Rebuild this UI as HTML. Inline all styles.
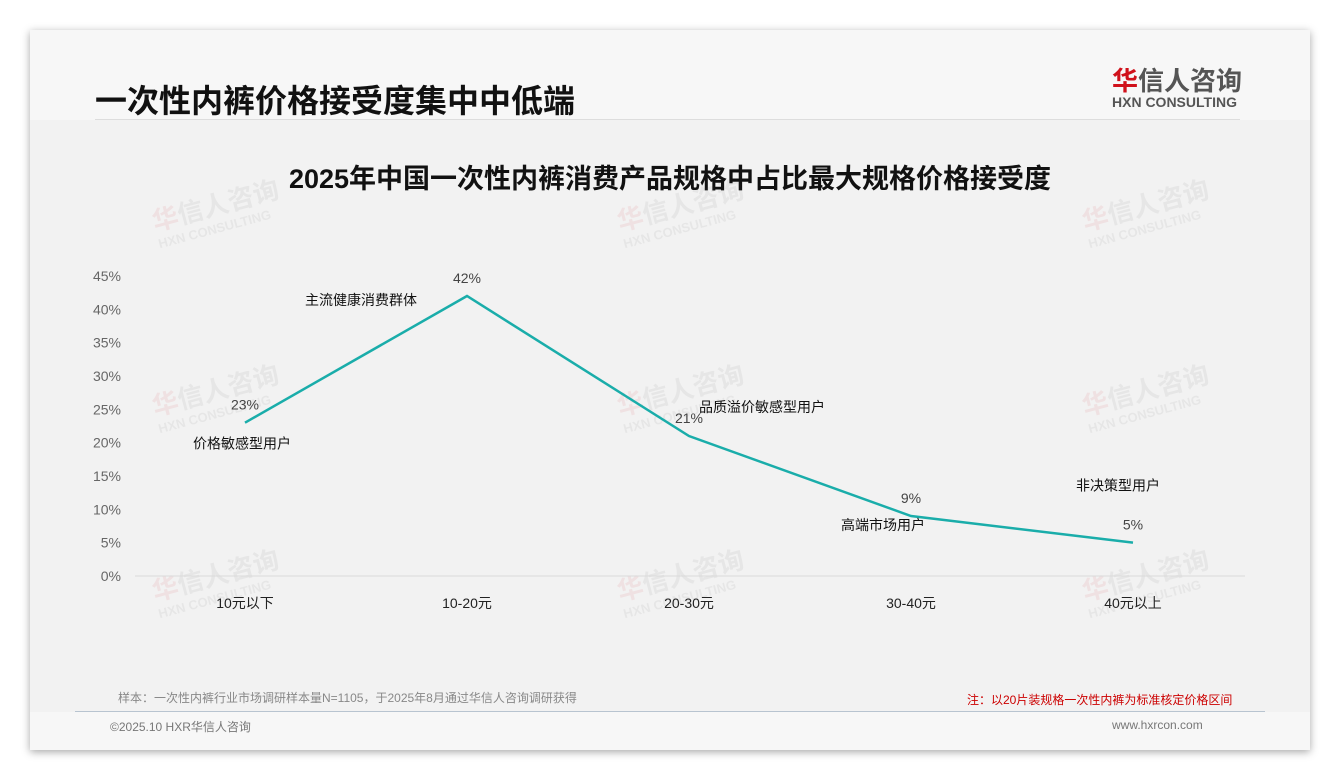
<!DOCTYPE html>
<html><head><meta charset="utf-8"><style>
body{margin:0;width:1340px;height:780px;background:#fff;position:relative;overflow:hidden;font-family:"Liberation Sans","Noto Sans CJK SC",sans-serif}
.card{position:absolute;left:30px;top:30px;width:1280px;height:720px;background:#f7f7f7;box-shadow:0 2px 8px rgba(0,0,0,.35)}
.abs{position:absolute;white-space:nowrap}
</style></head><body>
<div class="card"></div>
<div class="abs" style="left:30px;top:120px;width:1280px;height:592px;background:#f2f2f2"></div>
<div class="abs" style="left:95px;top:76px;font-size:32px;font-weight:bold;color:#111">一次性内裤价格接受度集中中低端</div>
<div class="abs" style="left:1112px;top:61px;font-size:26px;font-weight:bold;color:#555;letter-spacing:0px"><span style="color:#d0111b">华</span>信人咨询</div>
<div class="abs" style="left:1112px;top:94px;font-size:14px;font-weight:bold;color:#555">HXN CONSULTING</div>
<div class="abs" style="left:95px;top:119px;width:1145px;height:1px;background:#ddd"></div>
<div class="abs" style="left:0;width:1340px;text-align:center;top:157px;font-size:27px;font-weight:bold;color:#111">2025年中国一次性内裤消费产品规格中占比最大规格价格接受度</div>
<svg id="chart" class="abs" style="left:0;top:0" width="1340" height="780"></svg>
<div class="abs" style="left:118px;top:689px;font-size:12px;color:#888">样本：一次性内裤行业市场调研样本量N=1105，于2025年8月通过华信人咨询调研获得</div>
<div class="abs" style="left:967px;top:691px;font-size:12px;color:#c00">注：以20片装规格一次性内裤为标准核定价格区间</div>
<div class="abs" style="left:75px;top:711px;width:1190px;height:1px;background:#b8c4d0"></div>
<div class="abs" style="left:110px;top:718px;font-size:12px;color:#777">©2025.10 HXR华信人咨询</div>
<div class="abs" style="left:1112px;top:718px;font-size:12px;color:#777">www.hxrcon.com</div>
<script>
const categories=["10元以下","10-20元","20-30元","30-40元","40元以上"];
const values=[23,42,21,9,5];
const notes=["价格敏感型用户","主流健康消费群体","品质溢价敏感型用户","高端市场用户","非决策型用户"];
const yTicks=[0,5,10,15,20,25,30,35,40,45];
const svg=document.getElementById('chart');const NS='http://www.w3.org/2000/svg';
const x=i=>245+i*222, y=v=>576-v*(300/45);
function mk(t,a,txt){const e=document.createElementNS(NS,t);for(const k in a)e.setAttribute(k,a[k]);if(txt!==undefined)e.textContent=txt;svg.appendChild(e);return e;}
[[215,215],[680,215],[1145,215],[215,400],[680,400],[1145,400],[215,585],[680,585],[1145,585]].forEach(p=>{
const g=document.createElementNS(NS,'g');g.setAttribute('transform',`translate(${p[0]},${p[1]}) rotate(-15)`);g.setAttribute('opacity','0.07');


g.innerHTML='<text x="-62" y="0" font-size="26" font-weight="bold" fill="#555" font-family="Liberation Sans,Noto Sans CJK SC,sans-serif"><tspan fill="#d0111b">华</tspan>信人咨询</text><text x="-62" y="18" font-size="13" font-weight="bold" fill="#555" font-family="Liberation Sans,sans-serif">HXN CONSULTING</text>';
svg.appendChild(g);});
const base=mk('line',{x1:135,x2:1245,y1:576,y2:576,stroke:'#d9d9d9'});


yTicks.forEach(v=>{const t=mk('text',{x:121,y:y(v)+5,'text-anchor':'end','font-size':14,fill:'#666'},v+'%');

});
categories.forEach((c,i)=>{const t=mk('text',{x:x(i),y:608,'text-anchor':'middle','font-size':14,fill:'#222'},c);

});
const pl=mk('polyline',{points:values.map((v,i)=>x(i)+','+y(v)).join(' '),fill:'none',stroke:'#1aadaa','stroke-width':2.5});


const noteOffsets=[[-3,26],[-106,9],[73,-24],[-28,14],[-15,-52]];
values.forEach((v,i)=>{
const t=mk('text',{x:x(i),y:y(v)-13,'text-anchor':'middle','font-size':14,fill:'#444'},v+'%');


const n=mk('text',{x:x(i)+noteOffsets[i][0],y:y(v)+noteOffsets[i][1],'text-anchor':'middle','font-size':14,fill:'#111'},notes[i]);


});
</script>
</body></html>
